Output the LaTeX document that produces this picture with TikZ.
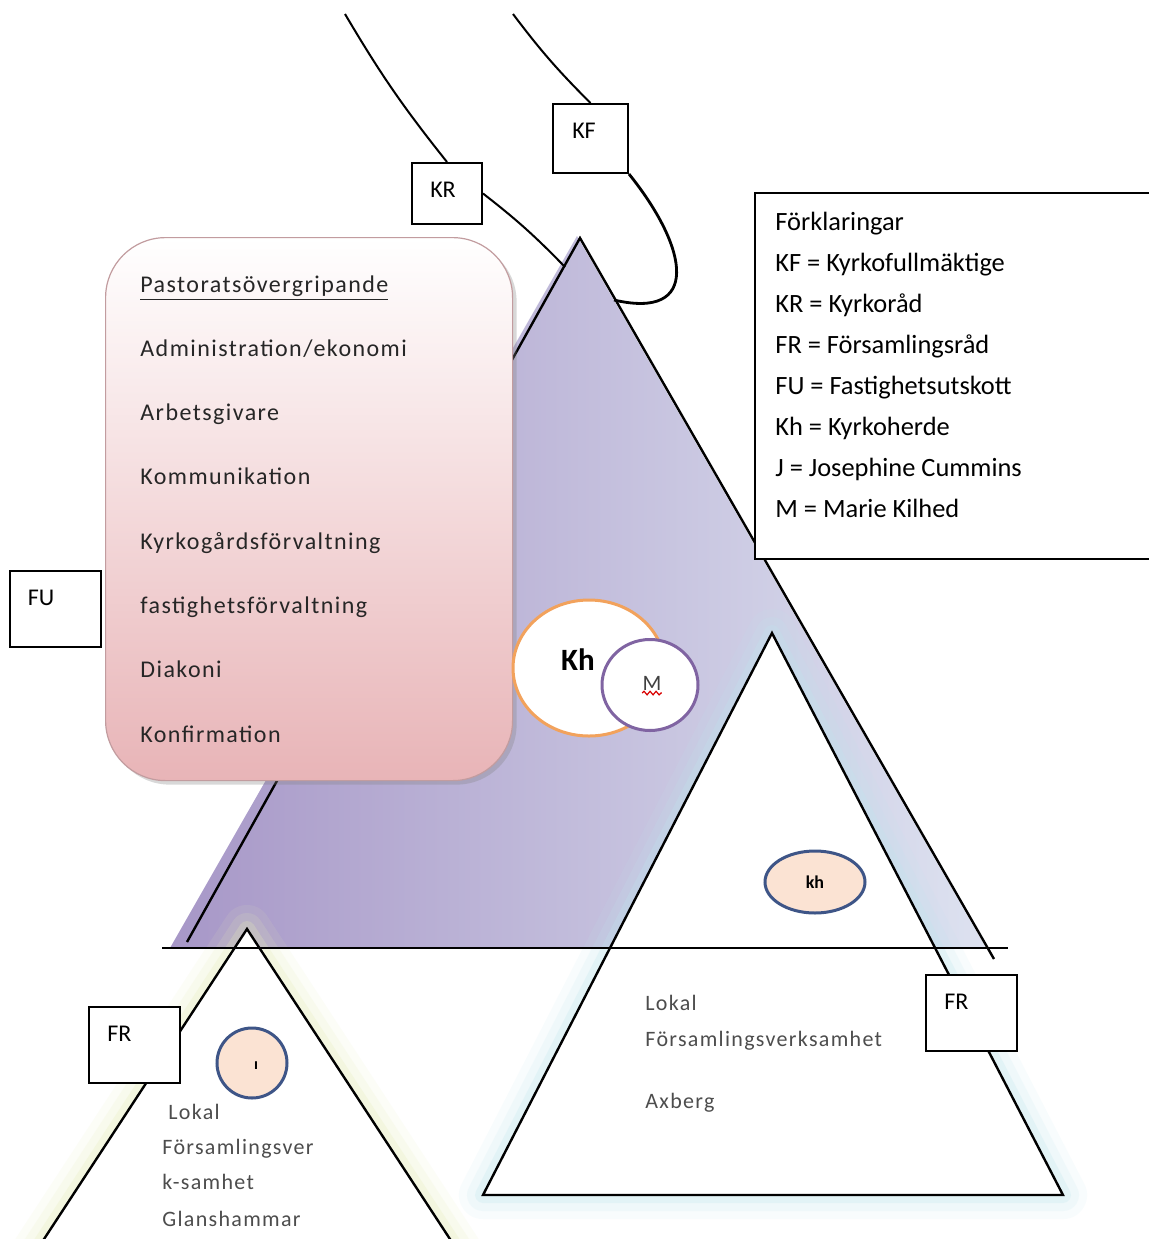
\documentclass[tikz,border=0pt]{standalone}
\usepackage{fontspec}
\setmainfont{Carlito}
\newfontfamily\spacedfont[LetterSpace=6]{Carlito}
\usetikzlibrary{positioning}
\usetikzlibrary{shapes.geometric}
\usetikzlibrary{shadows}
\usetikzlibrary{decorations.pathmorphing}

\definecolor{lilac}{HTML}{A797C7}
\definecolor{lilaclight}{HTML}{DDE2F0}
\definecolor{rosebottom}{HTML}{E8B4B7}
\definecolor{roseedge}{HTML}{C29C9F}
\definecolor{khorange}{HTML}{F2A25C}
\definecolor{mpurple}{HTML}{8064A2}
\definecolor{peach}{HTML}{FBE3D3}
\definecolor{navy}{HTML}{3E5587}
\definecolor{greytext}{HTML}{4D4D4D}
\definecolor{glowcyan}{HTML}{BFE6EE}
\definecolor{glowlime}{HTML}{E6EDB8}

\begin{document}
\begin{tikzpicture}[x=0.5pt, y=-0.5pt,
    edge/.style={line width=1.2pt},
    tagtext/.style={font=\fontsize{12}{14}\selectfont, inner sep=0pt},
    tagbox/.style={draw, fill=white, line width=1pt, minimum width=45.5pt, minimum height=38pt,
        label={[tagtext, anchor=center, xshift=16pt, yshift=-14pt]north west:#1}},
    rosebox/.style={draw=roseedge, line width=0.6pt, rounded corners=30pt, top color=white,
        bottom color=rosebottom, drop shadow={shadow xshift=2pt, shadow yshift=-2pt, opacity=.3}},
    rosetext/.style={anchor=base west, inner sep=0pt, text=black!85,
        font=\spacedfont\fontsize{12}{14}\selectfont},
    parishtext/.style={anchor=base west, inner sep=0pt, text=greytext,
        font=\spacedfont\fontsize{11}{13}\selectfont},
    legtext/.style={anchor=base west, inner sep=0pt, font=\fontsize{13.2}{16}\selectfont},
    priest/.style={ellipse, draw=navy, fill=peach, line width=1.5pt, inner sep=0pt}]
    \useasboundingbox[fill=white] (0,0) rectangle (1149,1239);

    % stora pyramiden
    \coordinate (apex) at (580,238);
    \coordinate (bigL) at (187,942);
    \coordinate (bigR) at (994,959);
    \shade[left color=lilac, right color=lilaclight] (577,236) -- (170,948) -- (986,948) -- cycle;
    \draw[edge] (bigL) -- (apex) -- (bigR);

    % Axberg
    \coordinate (axTop) at (772,633);
    \coordinate (axL) at (483,1195);
    \coordinate (axR) at (1063,1195);
    \foreach \w/\o in {24/0.1, 16/0.15, 8/0.25}
        \draw[line width=\w pt, glowcyan, opacity=\o, line join=round] (axTop) -- (axL) -- (axR) -- cycle;
    \fill[white] (axTop) -- (axL) -- (axR) -- cycle;
    \draw[edge] (axTop) -- (axL) -- (axR) -- cycle;

    % Glanshammar
    \coordinate (glTop) at (247,929);
    \coordinate (glL) at (29,1262);
    \coordinate (glR) at (465,1262);
    \foreach \w/\o in {24/0.1, 16/0.15, 8/0.25}
        \draw[line width=\w pt, glowlime, opacity=\o, line join=round] (glTop) -- (glL) -- (glR) -- cycle;
    \fill[white] (glTop) -- (glL) -- (glR) -- cycle;
    \draw[edge] (glTop) -- (glL) -- (glR) -- cycle;

    \coordinate (baseL) at (162,948);
    \coordinate (baseR) at (1008,948);
    \draw[edge] (baseL) -- (baseR);

    % pastoratsövergripande
    \node[rosebox, minimum width=203.5pt, minimum height=271.5pt, anchor=north west] (pastorat) at (105,237) {};
    \node[rosetext] (pastorat0) at (140,292) {\underline{Pastoratsövergripande}};
    \foreach \txt [count=\i] in {{Administration/ekonomi}, Arbetsgivare, Kommunikation,
        Kyrkogårdsförvaltning, fastighetsförvaltning, Diakoni, Konfirmation}
        \node[rosetext] (pastorat\i) at (140,{292+64.3*\i}) {\txt};

    \node[tagbox=FU] (fu) at (55.5,609) {};

    % kyrkoherde
    \node[ellipse, draw=khorange, line width=1.5pt, fill=white, minimum width=76pt, minimum height=68pt] (khring) at (589,668) {};
    \node[font=\bfseries\fontsize{15.5}{18}\selectfont, inner sep=0pt] (khtext) at (578,660) {Kh};
    \node[ellipse, draw=mpurple, line width=1.5pt, fill=white, minimum width=48pt, minimum height=45.5pt] (mring) at (650,685) {};
    \node[font=\fontsize{11}{12}\selectfont, inner sep=0pt, text=black!75] (mtext) at (652,683) {M};
    \draw[red!85!black, line width=0.6pt, decorate, decoration={snake, amplitude=0.9pt, segment length=3pt}]
        ([yshift=-1.5pt]mtext.base west) -- ([yshift=-1.5pt]mtext.base east);

    % KR och KF
    \node[tagbox=KR, minimum width=35pt, minimum height=30.5pt] (kr) at (447,193.5) {};
    \node[tagbox=KF, minimum width=37.5pt, minimum height=34.5pt] (kf) at (590.5,138.5) {};
    \coordinate (krTop) at (345,14);
    \coordinate (krEnd) at (565,267);
    \coordinate (kfTop) at (513,14);
    \coordinate (kfEnd) at (614,300);
    \draw[line width=1pt] (krTop) to[bend right=4] (kr.north);
    \draw[line width=1pt] (kr.east) to[bend left=4] (krEnd);
    \draw[line width=1pt] (kfTop) to[bend right=4] (kf.north);
    \draw[line width=1.4pt] (kf.south east) .. controls (690,250) and (700,320) .. (kfEnd);

    % förklaringar
    \node[draw, fill=white, line width=0.8pt, minimum width=201pt, minimum height=183pt, anchor=north west] (legend) at (754,192) {};
    \foreach \txt [count=\i from 0] in {Förklaringar, KF = Kyrkofullmäktige, KR = Kyrkoråd,
        FR = Församlingsråd, FU = Fastighetsutskott, Kh = Kyrkoherde,
        J = Josephine Cummins, M = Marie Kilhed}
        \node[legtext] (leg\i) at (775,{230+41*\i}) {\txt};

    % lokala församlingar
    \node[priest, minimum width=50pt, minimum height=31pt, font=\bfseries\fontsize{9}{10}\selectfont] (khax) at (815,882) {kh};
    \node[tagbox=FR] (frax) at (971,1013) {};
    \node[parishtext] (axLokal) at (645,1010) {Lokal};
    \node[parishtext] (axVerk) at (645,1046) {Församlingsverksamhet};
    \node[parishtext] (axName) at (645,1108) {Axberg};

    \node[priest, minimum width=35pt, minimum height=35pt] (jring) at (252,1063) {};
    \node[font=\bfseries\fontsize{8}{9}\selectfont, inner sep=0pt] (jtext) at (256,1066) {ı};
    \node[tagbox=FR] (frgl) at (134,1045) {};
    \node[parishtext] (glLokal) at (168,1119) {Lokal};
    \node[parishtext] (glVerk1) at (162,1154) {Församlingsver};
    \node[parishtext] (glVerk2) at (162,1189) {k-samhet};
    \node[parishtext] (glName) at (162,1226) {Glanshammar};
\end{tikzpicture}
\end{document}
